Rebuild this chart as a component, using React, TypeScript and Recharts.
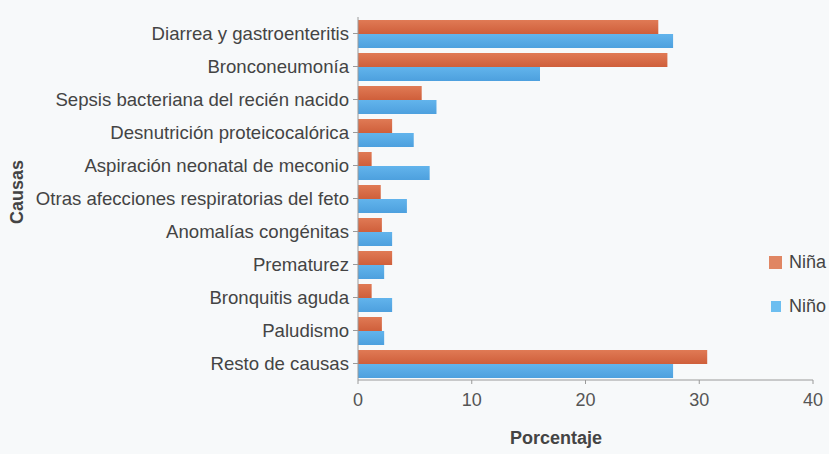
import { BarChart, Bar, XAxis, YAxis } from "recharts";

const causas = [
  "Diarrea y gastroenteritis",
  "Bronconeumonía",
  "Sepsis bacteriana del recién nacido",
  "Desnutrición proteicocalórica",
  "Aspiración neonatal de meconio",
  "Otras afecciones respiratorias del feto",
  "Anomalías congénitas",
  "Prematurez",
  "Bronquitis aguda",
  "Paludismo",
  "Resto de causas",
];
const nina = [26.4, 27.2, 5.6, 3.0, 1.2, 2.0, 2.1, 3.0, 1.2, 2.1, 30.7];
const nino = [27.7, 16.0, 6.9, 4.9, 6.3, 4.3, 3.0, 2.3, 3.0, 2.3, 27.7];
const xTicks = [0, 10, 20, 30, 40];

const data = causas.map((causa, i) => ({ causa, nina: nina[i], nino: nino[i] }));

const FONT = '"Liberation Sans", Arial, sans-serif';
const FS = 18;

export default function App() {
  return (
    <div style={{ position: "fixed", left: 0, top: 0, width: 829, height: 454, background: "#f7f9fa" }}>
      <BarChart
        width={829}
        height={454}
        data={data}
        layout="vertical"
        margin={{ top: 17, right: 16, bottom: 44, left: 0 }}
        barGap={0}
        barSize={14}
      >
        <defs>
          <linearGradient id="gRed" x1="0" y1="0" x2="0" y2="1">
            <stop offset="0%" stopColor="#e07a55" />
            <stop offset="100%" stopColor="#cf5f3b" />
          </linearGradient>
          <linearGradient id="gBlue" x1="0" y1="0" x2="0" y2="1">
            <stop offset="0%" stopColor="#62b4ec" />
            <stop offset="100%" stopColor="#4da0de" />
          </linearGradient>
        </defs>
        <XAxis
          type="number"
          domain={[0, 40]}
          ticks={xTicks}
          height={30}
          stroke="#9a9a9a"
          tickSize={4}
          tickMargin={9}
          tick={{ fontSize: FS, fill: "#555", fontFamily: FONT }}
          label={{
            content: () => (
              <text x={556} y={444} textAnchor="middle" fontSize={FS} fontWeight="bold" fill="#444" fontFamily={FONT}>
                Porcentaje
              </text>
            ),
          }}
        />
        <YAxis
          type="category"
          dataKey="causa"
          width={358}
          stroke="#9a9a9a"
          tickSize={5}
          tickMargin={4}
          interval={0}
          tick={{ fontSize: 18.6, fill: "#444", fontFamily: FONT }}
          label={{
            content: () => (
              <text
                x={23}
                y={192}
                textAnchor="middle"
                fontSize={FS}
                fontWeight="bold"
                fill="#444"
                fontFamily={FONT}
                transform="rotate(-90 23 192)"
              >
                Causas
              </text>
            ),
          }}
        />
        <Bar dataKey="nina" name="Niña" fill="url(#gRed)" isAnimationActive={false} />
        <Bar dataKey="nino" name="Niño" fill="url(#gBlue)" isAnimationActive={false} />
      </BarChart>
      <div style={{ position: "absolute", left: 769, top: 252, fontFamily: FONT, fontSize: FS, color: "#444" }}>
        <div style={{ display: "flex", alignItems: "center", height: 20 }}>
          <span style={{ width: 13, height: 13, background: "#e08663", marginRight: 7 }} />
          Niña
        </div>
        <div style={{ display: "flex", alignItems: "center", height: 20, marginTop: 24 }}>
          <span style={{ width: 10, height: 11, background: "#6cbef0", margin: "0 8px 0 2px" }} />
          Niño
        </div>
      </div>
    </div>
  );
}
